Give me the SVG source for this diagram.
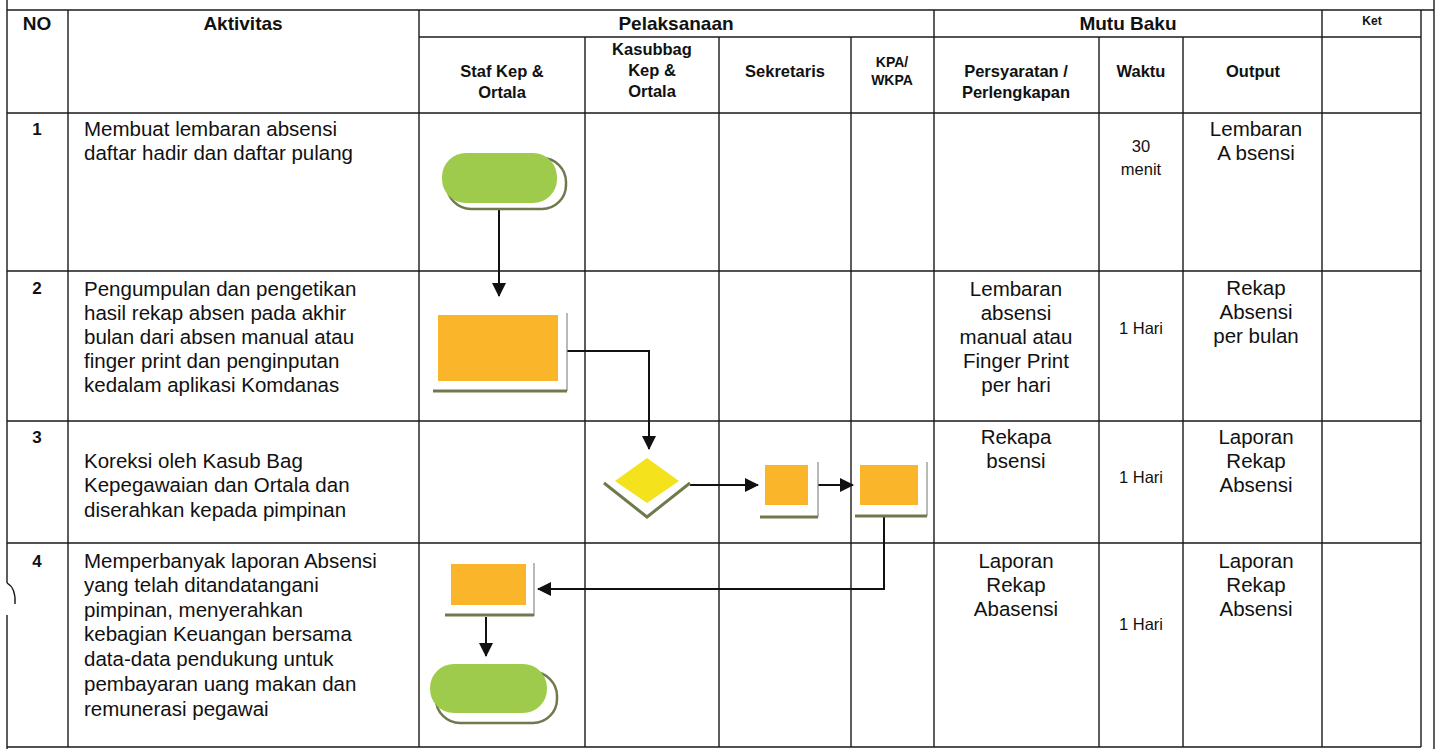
<svg xmlns="http://www.w3.org/2000/svg" width="1437" height="749" viewBox="0 0 1437 749">
<style>
.g{stroke:#1a1a1a;stroke-width:1.4;fill:none}
.t{font-family:"Liberation Sans",Arial,sans-serif;font-size:20.5px;fill:#111}
.c{text-anchor:middle}
.h{font-family:"Liberation Sans",Arial,sans-serif;font-weight:bold;font-size:19px;fill:#111;text-anchor:middle}
.s{font-family:"Liberation Sans",Arial,sans-serif;font-weight:bold;font-size:16.5px;fill:#111;text-anchor:middle}
.n{font-family:"Liberation Sans",Arial,sans-serif;font-weight:bold;font-size:17px;fill:#111;text-anchor:middle}
.w{font-family:"Liberation Sans",Arial,sans-serif;font-size:16.5px;fill:#111;text-anchor:middle}
.conn{stroke:#111;stroke-width:2;fill:none}
.term{fill:#9fcb4c}
.proc{fill:#fbb52a}
.dec{fill:#f4e21c}
.shw{fill:#fff;stroke:none}
.sb{stroke:#6f7a4c;stroke-width:3;fill:none}
.sr{stroke:#8a8a8a;stroke-width:1.2;fill:none}
</style>
<defs>
<marker id="ah" viewBox="0 0 14 14" refX="13" refY="7" markerWidth="14" markerHeight="14" markerUnits="userSpaceOnUse" orient="auto">
<path d="M0,0 L14,7 L0,14 Z" fill="#111"/>
</marker>
</defs>
<rect width="1437" height="749" fill="#fff"/>
<g id="grid" class="g">
<path d="M7,0 V583 M7,615 V749"/>
<path d="M7,583 Q16,588 15,604"/>
<path d="M1434,0 V749"/>
<path d="M7,10 H1434"/>
<path d="M419,37 H1421"/>
<path d="M7,113 H1421 M7,271 H1421 M7,421 H1421 M7,543 H1421 M7,747 H1421"/>
<path d="M68,10 V747 M419,10 V747 M934,10 V747 M1322,10 V747 M1421,10 V747"/>
<path d="M585,37 V747 M719,37 V747 M851,37 V747 M1099,37 V747 M1183,37 V747"/>
</g>
<g id="header">
<text class="h" x="37" y="30">NO</text>
<text class="h" x="243" y="30">Aktivitas</text>
<text class="h" x="676" y="30">Pelaksanaan</text>
<text class="h" x="1128" y="30">Mutu Baku</text>
<text class="n" x="1372" y="25" style="font-size:12px">Ket</text>
<text class="s" x="502" y="77">Staf Kep &amp;</text>
<text class="s" x="502" y="98">Ortala</text>
<text class="s" x="652" y="55">Kasubbag</text>
<text class="s" x="652" y="76">Kep &amp;</text>
<text class="s" x="652" y="97">Ortala</text>
<text class="s" x="785" y="77">Sekretaris</text>
<text class="s" x="892" y="67" style="font-size:14px">KPA/</text>
<text class="s" x="892" y="85" style="font-size:14px">WKPA</text>
<text class="s" x="1016" y="77">Persyaratan /</text>
<text class="s" x="1016" y="98">Perlengkapan</text>
<text class="s" x="1141" y="77">Waktu</text>
<text class="s" x="1253" y="77">Output</text>
</g>
<g id="row1">
<text class="n" x="37" y="135">1</text>
<text class="t" x="84" y="136">Membuat lembaran absensi</text>
<text class="t" x="84" y="160">daftar hadir dan daftar pulang</text>
<text class="w" x="1141" y="152">30</text>
<text class="w" x="1141" y="175">menit</text>
<text class="t c" x="1256" y="136">Lembaran</text>
<text class="t c" x="1256" y="160">A bsensi</text>
</g>
<g id="row2">
<text class="n" x="37" y="294">2</text>
<text class="t" x="84" y="296">Pengumpulan dan pengetikan</text>
<text class="t" x="84" y="320">hasil rekap absen pada akhir</text>
<text class="t" x="84" y="344">bulan dari absen manual atau</text>
<text class="t" x="84" y="368">finger print dan penginputan</text>
<text class="t" x="84" y="392">kedalam aplikasi Komdanas</text>
<text class="t c" x="1016" y="296">Lembaran</text>
<text class="t c" x="1016" y="320">absensi</text>
<text class="t c" x="1016" y="344">manual atau</text>
<text class="t c" x="1016" y="368">Finger Print</text>
<text class="t c" x="1016" y="392">per hari</text>
<text class="w" x="1141" y="334">1 Hari</text>
<text class="t c" x="1256" y="295">Rekap</text>
<text class="t c" x="1256" y="319">Absensi</text>
<text class="t c" x="1256" y="343">per bulan</text>
</g>
<g id="row3">
<text class="n" x="37" y="443">3</text>
<text class="t" x="84" y="468">Koreksi oleh Kasub Bag</text>
<text class="t" x="84" y="492">Kepegawaian dan Ortala dan</text>
<text class="t" x="84" y="517">diserahkan kepada pimpinan</text>
<text class="t c" x="1016" y="444">Rekapa</text>
<text class="t c" x="1016" y="468">bsensi</text>
<text class="w" x="1141" y="483">1 Hari</text>
<text class="t c" x="1256" y="444">Laporan</text>
<text class="t c" x="1256" y="468">Rekap</text>
<text class="t c" x="1256" y="492">Absensi</text>
</g>
<g id="row4">
<text class="n" x="37" y="567">4</text>
<text class="t" x="84" y="568">Memperbanyak laporan Absensi</text>
<text class="t" x="84" y="592">yang telah ditandatangani</text>
<text class="t" x="84" y="617">pimpinan, menyerahkan</text>
<text class="t" x="84" y="641">kebagian Keuangan bersama</text>
<text class="t" x="84" y="666">data-data pendukung untuk</text>
<text class="t" x="84" y="691">pembayaran uang makan dan</text>
<text class="t" x="84" y="716">remunerasi pegawai</text>
<text class="t c" x="1016" y="568">Laporan</text>
<text class="t c" x="1016" y="592">Rekap</text>
<text class="t c" x="1016" y="616">Abasensi</text>
<text class="w" x="1141" y="630">1 Hari</text>
<text class="t c" x="1256" y="568">Laporan</text>
<text class="t c" x="1256" y="592">Rekap</text>
<text class="t c" x="1256" y="616">Absensi</text>
</g>
<g id="connectors">
<path class="conn" d="M499,208 V296" marker-end="url(#ah)"/>
<path class="conn" d="M567,351 H649 V449" marker-end="url(#ah)"/>
<path class="conn" d="M690,485 H758" marker-end="url(#ah)"/>
<path class="conn" d="M818,485 H853" marker-end="url(#ah)"/>
<path class="conn" d="M884,517 V589 H538" marker-end="url(#ah)"/>
<path class="conn" d="M486,617 V656" marker-end="url(#ah)"/>
</g>
<g id="n1-start">
<rect x="447" y="158" width="119" height="51" rx="24" fill="#fff" stroke="#6f7a4c" stroke-width="2.5"/>
<rect class="term" x="442" y="153" width="115" height="50" rx="24"/>
</g>
<g id="n2-process">
<rect class="shw" x="433" y="313" width="134" height="78"/>
<path class="sr" d="M567,313 V391"/>
<path class="sb" d="M433,391 H567"/>
<rect class="proc" x="438" y="315" width="120" height="66"/>
</g>
<g id="n3-decision">
<path d="M604,483 L647,450 L690,483 L647,517 Z" fill="#fff"/>
<path class="sb" d="M604,483 L647,517 L690,483"/>
<path class="dec" d="M615,481 L647,458 L679,481 L647,503 Z"/>
</g>
<g id="n4-sekretaris">
<rect class="shw" x="760" y="462" width="58" height="55"/>
<path class="sr" d="M818,462 V517"/>
<path class="sb" d="M760,517 H818"/>
<rect class="proc" x="765" y="465" width="43" height="40"/>
</g>
<g id="n5-kpa">
<rect class="shw" x="855" y="462" width="72" height="54"/>
<path class="sr" d="M927,462 V516"/>
<path class="sb" d="M855,516 H927"/>
<rect class="proc" x="860" y="465" width="58" height="40"/>
</g>
<g id="n6-process">
<rect class="shw" x="445" y="563" width="89" height="52"/>
<path class="sr" d="M534,563 V616"/>
<path class="sb" d="M445,615 H534"/>
<rect class="proc" x="451" y="564" width="75" height="41"/>
</g>
<g id="n7-end">
<rect x="436" y="672" width="121" height="51" rx="24" fill="#fff" stroke="#6f7a4c" stroke-width="2.5"/>
<rect class="term" x="430" y="664" width="117" height="49" rx="24"/>
</g>
</svg>
